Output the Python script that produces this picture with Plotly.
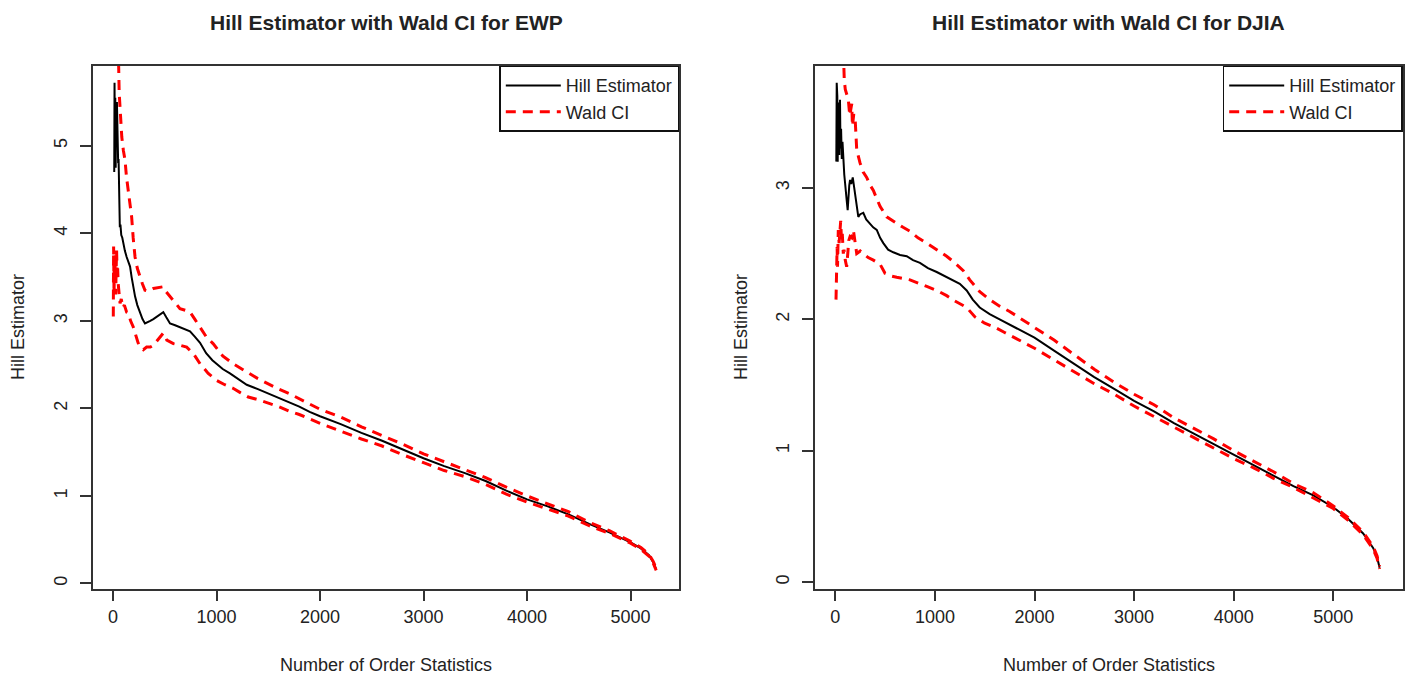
import plotly.graph_objects as go

# ---------------- EWP (left panel) ----------------
ewp_hill_k = [12, 15, 18, 22, 26, 30, 34, 38, 42, 46, 50, 54, 58, 62, 66, 72, 80, 90, 100, 115,
              132, 150, 165, 180, 195, 213, 235, 261, 285, 309, 335, 360, 390, 422, 455, 486, 515,
              551, 600, 647, 700, 744, 790, 841, 900, 960, 1000, 1060, 1130, 1200, 1292, 1400,
              1500, 1600, 1700, 1800, 1900, 2000, 2200, 2400, 2600, 2800, 3000, 3200, 3400, 3600,
              3800, 4000, 4200, 4400, 4600, 4800, 5000, 5100, 5180, 5220, 5248]
ewp_hill_v = [4.70, 5.72, 5.00, 5.55, 4.75, 5.45, 5.00, 5.50, 4.95, 5.30, 4.80, 4.85, 4.64, 4.15,
              4.07, 4.10, 3.98, 3.95, 3.88, 3.80, 3.73, 3.66, 3.62, 3.50, 3.38, 3.28, 3.18, 3.09,
              3.02, 2.97, 2.99, 3.00, 3.02, 3.05, 3.08, 3.10, 3.04, 2.97, 2.95, 2.93, 2.90, 2.88,
              2.82, 2.75, 2.63, 2.55, 2.51, 2.45, 2.40, 2.34, 2.27, 2.22, 2.17, 2.12, 2.07, 2.02,
              1.96, 1.91, 1.82, 1.72, 1.63, 1.53, 1.43, 1.34, 1.26, 1.17, 1.06, 0.96, 0.88, 0.79,
              0.68, 0.58, 0.47, 0.40, 0.32, 0.24, 0.16]

ewp_up_k = [30, 45, 55, 60, 68, 75, 85, 100, 116, 130, 145, 160, 180, 195, 213, 235, 261, 285, 309,
            340, 390, 440, 486, 515, 551, 600, 647, 700, 744, 790, 841, 900, 967, 1060, 1160, 1307,
            1400, 1500, 1600, 1700, 1800, 1900, 2000, 2200, 2400, 2600, 2800, 3000, 3200, 3400,
            3600, 3800, 4000, 4200, 4400, 4600, 4800, 5000, 5100, 5180, 5220, 5248]
ewp_up_v = [7.50, 6.20, 5.90, 5.60, 5.41, 5.30, 5.10, 4.95, 4.84, 4.65, 4.50, 4.35, 4.19, 3.95,
            3.73, 3.60, 3.50, 3.42, 3.35, 3.34, 3.37, 3.38, 3.39, 3.33, 3.28, 3.20, 3.14, 3.12,
            3.10, 3.02, 2.93, 2.82, 2.74, 2.60, 2.51, 2.40, 2.34, 2.28, 2.22, 2.17, 2.11, 2.05,
            1.99, 1.90, 1.79, 1.69, 1.59, 1.48, 1.39, 1.30, 1.21, 1.10, 1.00, 0.91, 0.82, 0.70,
            0.60, 0.48, 0.41, 0.33, 0.25, 0.17]

ewp_lo_k = [3, 6, 10, 14, 18, 22, 26, 30, 35, 40, 45, 50, 58, 68, 80, 95, 110, 132, 148, 170, 196,
            213, 242, 265, 293, 325, 360, 390, 430, 460, 486, 520, 583, 650, 712, 780, 841, 920,
            1000, 1080, 1160, 1230, 1307, 1400, 1500, 1600, 1700, 1800, 1900, 2000, 2200, 2400,
            2600, 2800, 3000, 3200, 3400, 3600, 3800, 4000, 4200, 4400, 4600, 4800, 5000, 5100,
            5180, 5220, 5248]
ewp_lo_v = [3.05, 3.85, 3.30, 3.60, 3.43, 3.75, 3.30, 3.55, 3.81, 3.50, 3.60, 3.43, 3.30, 3.20,
            3.25, 3.15, 3.18, 3.10, 3.09, 3.00, 2.93, 2.86, 2.75, 2.70, 2.67, 2.70, 2.70, 2.72,
            2.78, 2.82, 2.86, 2.78, 2.74, 2.72, 2.70, 2.62, 2.51, 2.40, 2.32, 2.27, 2.23, 2.18,
            2.13, 2.10, 2.06, 2.02, 1.97, 1.93, 1.88, 1.83, 1.74, 1.65, 1.57, 1.47, 1.38, 1.29,
            1.22, 1.13, 1.02, 0.93, 0.85, 0.77, 0.66, 0.57, 0.46, 0.39, 0.31, 0.23, 0.15]

# ---------------- DJIA (right panel) ----------------
dj_hill_k = [10, 14, 17, 20, 24, 28, 32, 36, 40, 47, 52, 58, 65, 72, 80, 90, 100, 107, 115, 124,
             132, 140, 148, 160, 175, 190, 198, 215, 231, 250, 281, 310, 348, 380, 416, 450, 482,
             530, 582, 650, 717, 780, 850, 930, 1018, 1100, 1185, 1250, 1319, 1380, 1450, 1550,
             1650, 1750, 1850, 2000, 2200, 2400, 2600, 2800, 3000, 3200, 3400, 3600, 3800, 4000,
             4200, 4400, 4600, 4800, 5000, 5150, 5300, 5400, 5440, 5465]
dj_hill_v = [3.20, 3.80, 3.25, 3.70, 3.20, 3.65, 3.30, 3.55, 3.25, 3.67, 3.30, 3.45, 3.22, 3.35,
             3.19, 3.10, 3.02, 2.98, 2.90, 2.83, 2.95, 3.02, 3.06, 3.03, 3.08, 3.00, 2.98, 2.85,
             2.78, 2.80, 2.81, 2.76, 2.73, 2.70, 2.68, 2.62, 2.58, 2.53, 2.51, 2.49, 2.48, 2.45,
             2.43, 2.39, 2.36, 2.33, 2.30, 2.27, 2.22, 2.15, 2.09, 2.04, 2.00, 1.96, 1.92, 1.86,
             1.76, 1.66, 1.56, 1.47, 1.38, 1.30, 1.21, 1.13, 1.05, 0.97, 0.89, 0.81, 0.73, 0.66,
             0.57, 0.48, 0.37, 0.26, 0.19, 0.11]

dj_up_k = [70, 80, 90, 100, 115, 131, 145, 155, 165, 172, 185, 198, 215, 248, 280, 315, 350, 382,
           415, 449, 516, 616, 680, 750, 830, 918, 1018, 1118, 1200, 1285, 1350, 1450, 1550, 1650,
           1750, 1850, 2000, 2200, 2400, 2600, 2800, 3000, 3200, 3400, 3600, 3800, 4000, 4200,
           4400, 4600, 4800, 5000, 5150, 5300, 5400, 5440, 5465]
dj_up_v = [4.30, 3.95, 3.82, 3.75, 3.70, 3.67, 3.55, 3.62, 3.64, 3.47, 3.56, 3.54, 3.29, 3.19,
           3.12, 3.08, 3.02, 2.98, 2.92, 2.86, 2.78, 2.73, 2.70, 2.67, 2.62, 2.58, 2.53, 2.48,
           2.43, 2.37, 2.30, 2.21, 2.15, 2.10, 2.06, 2.01, 1.94, 1.84, 1.73, 1.62, 1.52, 1.43,
           1.35, 1.25, 1.17, 1.09, 1.00, 0.92, 0.84, 0.75, 0.68, 0.58, 0.49, 0.38, 0.27, 0.20,
           0.12]

dj_lo_k = [7, 10, 14, 18, 22, 26, 30, 38, 45, 54, 62, 70, 80, 87, 100, 114, 125, 135, 148, 165,
           181, 195, 215, 250, 281, 330, 382, 449, 499, 560, 616, 750, 918, 1018, 1118, 1200,
           1319, 1400, 1500, 1600, 1700, 1800, 2000, 2200, 2400, 2600, 2800, 3000, 3200, 3400,
           3600, 3800, 4000, 4200, 4400, 4600, 4800, 5000, 5150, 5300, 5400, 5440, 5465]
dj_lo_v = [2.15, 2.43, 2.20, 2.55, 2.40, 2.62, 2.68, 2.58, 2.72, 2.75, 2.60, 2.65, 2.50, 2.53,
           2.45, 2.40, 2.50, 2.60, 2.63, 2.62, 2.68, 2.60, 2.50, 2.52, 2.50, 2.47, 2.45, 2.42,
           2.35, 2.33, 2.32, 2.30, 2.25, 2.22, 2.18, 2.14, 2.09, 2.02, 1.97, 1.94, 1.90, 1.86,
           1.78, 1.69, 1.60, 1.51, 1.43, 1.34, 1.26, 1.18, 1.10, 1.02, 0.94, 0.87, 0.79, 0.72,
           0.64, 0.56, 0.47, 0.36, 0.25, 0.18, 0.10]

titles = ["Hill Estimator with Wald CI for EWP", "Hill Estimator with Wald CI for DJIA"]
x_ticks = [0, 1000, 2000, 3000, 4000, 5000]
ewp_y_ticks = [0, 1, 2, 3, 4, 5]
dj_y_ticks = [0, 1, 2, 3]
xlabel = "Number of Order Statistics"
ylabel = "Hill Estimator"

W, H = 1416, 678
FONT = "Liberation Sans, Arial, sans-serif"
TXT = "#222222"
RED = "#FF0000"

# panel geometry (pixels)
L1, R1 = 92.7, 679.3
L2, R2 = 815.0, 1402.7
TOP, BOT = 65.7, 588.7
dom_y = [(H - BOT) / H, (H - TOP) / H]

fig = go.Figure()

def add_panel(xa, ya, hk, hv, uk, uv, lk, lv, leg):
    fig.add_trace(go.Scatter(x=hk, y=hv, mode="lines", name="Hill Estimator",
                             line=dict(color="black", width=2), xaxis=xa, yaxis=ya,
                             legend=leg, showlegend=True))
    fig.add_trace(go.Scatter(x=uk, y=uv, mode="lines", name="Wald CI",
                             line=dict(color=RED, width=3, dash="10px,7px"), xaxis=xa, yaxis=ya,
                             legend=leg, showlegend=True))
    fig.add_trace(go.Scatter(x=lk, y=lv, mode="lines", name="Wald CI",
                             line=dict(color=RED, width=3, dash="10px,7px"), xaxis=xa, yaxis=ya,
                             legend=leg, showlegend=False))

add_panel("x", "y", ewp_hill_k, ewp_hill_v, ewp_up_k, ewp_up_v, ewp_lo_k, ewp_lo_v, "legend")
add_panel("x2", "y2", dj_hill_k, dj_hill_v, dj_up_k, dj_up_v, dj_lo_k, dj_lo_v, "legend2")

axis_common = dict(showline=True, linecolor="#333333", linewidth=1.5, mirror=True,
                   ticks="outside", ticklen=11, tickwidth=1.5, tickcolor="#333333",
                   showgrid=False, zeroline=False,
                   tickfont=dict(family=FONT, size=18, color=TXT))

legend_common = dict(y=dom_y[1], yanchor="top", xanchor="right",
                     bordercolor="#111111", borderwidth=1.5, bgcolor="white",
                     font=dict(family=FONT, size=18, color=TXT), tracegroupgap=0,
                     itemwidth=55)

fig.update_layout(
    width=W, height=H,
    margin=dict(l=0, r=0, t=0, b=0),
    paper_bgcolor="white", plot_bgcolor="white",
    font=dict(family=FONT, color=TXT),
    xaxis=dict(domain=[L1 / W, R1 / W], range=[-196, 5471], tickvals=x_ticks, anchor="y",
               **axis_common),
    yaxis=dict(domain=dom_y, range=[-0.06, 5.915], tickvals=ewp_y_ticks, tickangle=-90,
               anchor="x", ticklabelstandoff=6, **axis_common),
    xaxis2=dict(domain=[L2 / W, R2 / W], range=[-204, 5697], tickvals=x_ticks, anchor="y2",
                **axis_common),
    yaxis2=dict(domain=dom_y, range=[-0.05, 3.93], tickvals=dj_y_ticks, tickangle=-90,
                anchor="x2", ticklabelstandoff=6, **axis_common),
    legend=dict(x=R1 / W, **legend_common),
    legend2=dict(x=R2 / W, **legend_common),
    showlegend=True,
)

annots = []
for (l, r), t in zip([(L1, R1), (L2, R2)], titles):
    annots.append(dict(text="<b>%s</b>" % t, x=(l + r) / 2 / W, y=1 - 22 / H, xref="paper",
                       yref="paper", xanchor="center", yanchor="middle", showarrow=False,
                       font=dict(family=FONT, size=21, color=TXT)))
    annots.append(dict(text=xlabel, x=(l + r) / 2 / W, y=1 - 665 / H, xref="paper", yref="paper",
                       xanchor="center", yanchor="middle", showarrow=False,
                       font=dict(family=FONT, size=18, color=TXT)))
for xc in [18, 741]:
    annots.append(dict(text=ylabel, x=xc / W, y=1 - 327 / H, xref="paper", yref="paper",
                       xanchor="center", yanchor="middle", showarrow=False, textangle=-90,
                       font=dict(family=FONT, size=18, color=TXT)))
fig.update_layout(annotations=annots)

fig.write_html("out.html", config={"displayModeBar": False},
               post_script="document.body.style.margin='0';document.body.style.padding='0';")
